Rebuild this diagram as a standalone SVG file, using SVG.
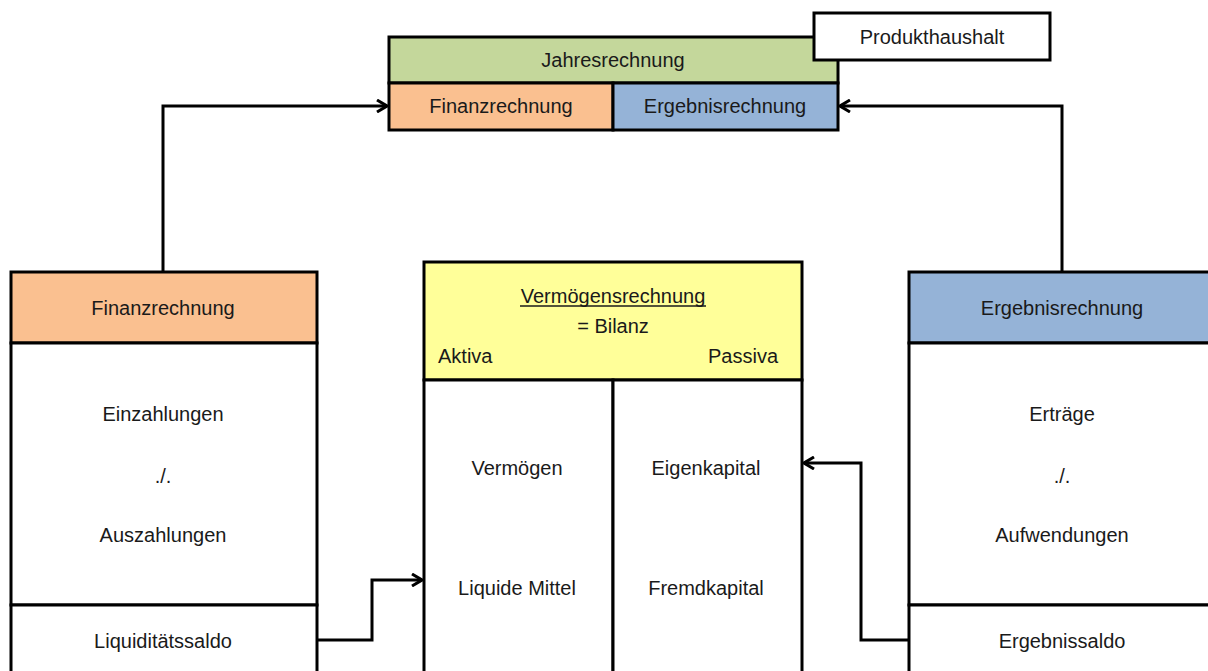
<svg xmlns="http://www.w3.org/2000/svg" width="1208" height="671" viewBox="0 0 1208 671">
<style>
.b{stroke:#000;stroke-width:3}
.t{font-family:"Liberation Sans",Arial,sans-serif;font-size:20px;fill:#1a1a1a;text-anchor:middle}
.s{text-anchor:start}
.e{text-anchor:end}
.c{fill:none;stroke:#000;stroke-width:3;stroke-linejoin:miter}
</style>
<defs>
<marker id="a" viewBox="0 0 14 14" refX="13" refY="7" markerWidth="14" markerHeight="14" markerUnits="userSpaceOnUse" orient="auto">
<path d="M3,1 L13,7 L3,13" fill="none" stroke="#000" stroke-width="3"/>
</marker>
</defs>
<rect width="1208" height="671" fill="#fff"/>
<g id="jahresrechnung">
<rect class="b" x="389" y="37" width="449" height="46" fill="#c4d79b"/>
<rect class="b" x="389" y="83" width="224" height="47" fill="#fac090"/>
<rect class="b" x="613" y="83" width="225" height="47" fill="#95b3d7"/>
<text class="t" x="613" y="67">Jahresrechnung</text>
<text class="t" x="501" y="113">Finanzrechnung</text>
<text class="t" x="725" y="113">Ergebnisrechnung</text>
</g>
<g id="produkthaushalt">
<rect class="b" x="814" y="13" width="236" height="47" fill="#fff"/>
<text class="t" x="932" y="44">Produkthaushalt</text>
</g>
<g id="finanzrechnung">
<rect class="b" x="11" y="272" width="306" height="71" fill="#fac090"/>
<rect class="b" x="11" y="343" width="306" height="262" fill="#fff"/>
<rect class="b" x="11" y="605" width="306" height="80" fill="#fff"/>
<text class="t" x="163" y="315">Finanzrechnung</text>
<text class="t" x="163" y="421">Einzahlungen</text>
<text class="t" x="163" y="483">./.</text>
<text class="t" x="163" y="542">Auszahlungen</text>
<text class="t" x="163" y="648">Liquiditätssaldo</text>
</g>
<g id="vermoegensrechnung">
<rect class="b" x="424" y="262" width="378" height="118" fill="#ffff99"/>
<rect class="b" x="424" y="380" width="189" height="305" fill="#fff"/>
<rect class="b" x="613" y="380" width="189" height="305" fill="#fff"/>
<text class="t" x="613" y="303">Vermögensrechnung</text>
<line x1="520" y1="306" x2="706" y2="306" stroke="#1a1a1a" stroke-width="1.5"/>
<text class="t" x="613" y="333">= Bilanz</text>
<text class="t s" x="438" y="363">Aktiva</text>
<text class="t e" x="778" y="363">Passiva</text>
<text class="t" x="517" y="475">Vermögen</text>
<text class="t" x="517" y="595">Liquide Mittel</text>
<text class="t" x="706" y="475">Eigenkapital</text>
<text class="t" x="706" y="595">Fremdkapital</text>
</g>
<g id="ergebnisrechnung">
<rect class="b" x="909" y="272" width="310" height="71" fill="#95b3d7"/>
<rect class="b" x="909" y="343" width="310" height="262" fill="#fff"/>
<rect class="b" x="909" y="605" width="310" height="80" fill="#fff"/>
<text class="t" x="1062" y="315">Ergebnisrechnung</text>
<text class="t" x="1062" y="421">Erträge</text>
<text class="t" x="1062" y="483">./.</text>
<text class="t" x="1062" y="542">Aufwendungen</text>
<text class="t" x="1062" y="648">Ergebnissaldo</text>
</g>
<g id="connectors">
<path class="c" d="M163,272 V106 H387" marker-end="url(#a)"/>
<path class="c" d="M1062,272 V106 H840" marker-end="url(#a)"/>
<path class="c" d="M317,640 H372 V580 H422" marker-end="url(#a)"/>
<path class="c" d="M909,640 H861 V463 H804" marker-end="url(#a)"/>
</g>
</svg>
